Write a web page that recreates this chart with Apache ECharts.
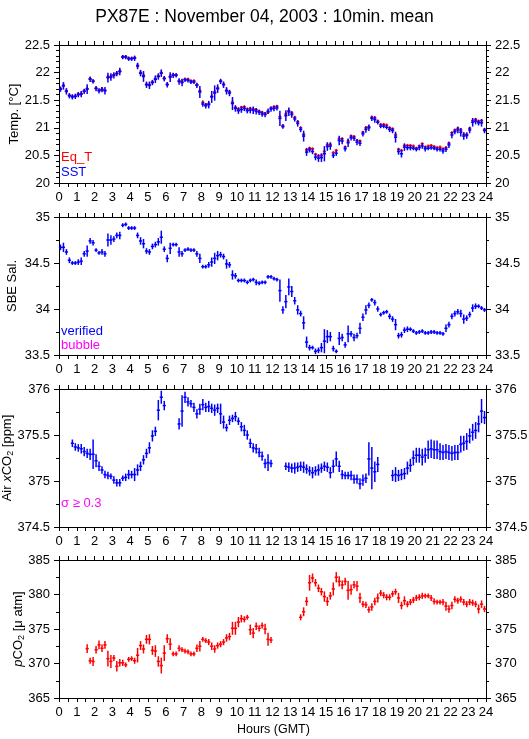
<!DOCTYPE html>
<html><head><meta charset="utf-8">
<script src="https://cdn.jsdelivr.net/npm/echarts@6/dist/echarts.min.js"></script>
<style>html,body{margin:0;padding:0;background:#fff}#c{width:529px;height:739px}</style>
</head><body><div id="c"></div>
<script>
// 10-minute mean slots: slot i is centred at (i+0.5)/6 hours
const SLOTS = 144;
const title = 'PX87E : November 04, 2003 : 10min. mean';
const xTicks = {min:0, max:24, interval:1};

const sst = [21.70,21.76,21.66,21.58,21.56,21.57,21.60,21.61,21.66,21.70,
 21.88,21.84,21.71,21.67,21.69,21.67,21.91,21.92,21.95,21.98,
 22.02,22.28,22.28,22.25,22.25,22.26,22.12,21.99,21.93,21.78,
 21.77,21.82,21.88,21.93,21.99,21.89,21.78,21.92,21.95,21.95,
 21.84,21.82,21.87,21.86,21.83,21.83,21.77,21.65,21.43,21.40,
 21.42,21.56,21.63,21.71,21.84,21.78,21.67,21.63,21.44,21.35,
 21.31,21.33,21.35,21.31,21.32,21.32,21.30,21.28,21.25,21.24,
 21.30,21.34,21.35,21.36,21.17,21.02,21.22,21.29,21.24,21.16,
 21.08,20.97,20.85,20.56,20.60,20.57,20.47,20.45,20.46,20.53,
 20.66,20.67,20.50,20.54,20.77,20.76,20.62,20.73,20.82,20.81,
 20.74,20.72,20.89,20.97,21.00,21.17,21.15,21.10,21.03,21.03,
 21.01,20.97,20.95,20.83,20.57,20.53,20.65,20.64,20.64,20.63,
 20.61,20.64,20.67,20.62,20.63,20.64,20.63,20.61,20.61,20.58,
 20.61,20.69,20.87,20.93,20.96,20.92,20.85,20.86,20.96,21.10,
 21.12,21.09,21.09,20.95];
const sstErr = [0.03,0.05,0.04,0.03,0.03,0.03,0.03,0.04,0.03,0.07,
 0.03,0.02,0.03,0.03,0.03,0.05,0.07,0.05,0.04,0.03,
 0.05,0.02,0.02,0.02,0.02,0.03,0.04,0.04,0.08,0.04,
 0.05,0.03,0.05,0.04,0.05,0.03,0.03,0.07,0.03,0.02,
 0.04,0.05,0.02,0.02,0.02,0.02,0.03,0.09,0.03,0.03,
 0.05,0.09,0.12,0.06,0.03,0.04,0.05,0.04,0.10,0.04,
 0.04,0.04,0.03,0.03,0.04,0.05,0.04,0.03,0.03,0.03,
 0.03,0.03,0.03,0.03,0.12,0.02,0.08,0.06,0.04,0.03,
 0.04,0.03,0.08,0.05,0.03,0.03,0.04,0.05,0.06,0.12,
 0.06,0.05,0.03,0.03,0.07,0.04,0.03,0.06,0.03,0.03,
 0.04,0.03,0.03,0.04,0.04,0.03,0.04,0.02,0.02,0.02,
 0.02,0.03,0.03,0.08,0.04,0.05,0.05,0.03,0.03,0.02,
 0.02,0.03,0.03,0.03,0.02,0.02,0.02,0.02,0.02,0.03,
 0.03,0.04,0.04,0.03,0.04,0.06,0.05,0.04,0.04,0.06,
 0.04,0.03,0.05,0.03];
const eqT = [21.71,21.77,21.67,21.59,21.57,21.57,21.61,21.62,21.67,21.71,
 21.89,21.85,21.72,21.68,21.70,21.68,21.92,21.93,21.96,21.99,
 22.03,22.29,22.29,22.26,22.26,22.27,22.13,22.00,21.95,21.79,
 21.78,21.83,21.89,21.94,22.00,21.90,21.79,21.93,21.96,21.96,
 21.85,21.84,21.88,21.88,21.85,21.85,21.78,21.67,21.46,21.42,
 21.44,21.57,21.65,21.72,21.85,21.79,21.68,21.65,21.46,21.37,
 21.34,21.37,21.38,21.34,21.35,21.34,21.33,21.30,21.28,21.26,
 21.28,21.36,21.38,21.39,21.20,21.04,21.25,21.31,21.27,21.19,
 21.11,21.00,20.88,20.60,20.63,20.62,20.52,20.49,20.50,20.57,
 20.69,20.70,20.55,20.59,20.80,20.80,20.65,20.76,20.85,20.84,
 20.77,20.76,20.92,21.00,21.02,21.19,21.18,21.12,21.06,21.06,
 21.05,21.00,20.98,20.87,20.61,20.59,20.68,20.68,20.68,20.67,
 20.63,20.67,20.71,20.65,20.67,20.68,20.66,20.64,20.65,20.62,
 20.64,20.72,20.91,20.96,20.99,20.96,20.88,20.88,20.99,21.13,
 21.15,21.12,21.13,20.97];
const eqTErr = [0.01,0.02,0.02,0.01,0.01,0.01,0.02,0.02,0.01,0.02,
 0.01,0.01,0.01,0.01,0.02,0.01,0.02,0.02,0.01,0.01,
 0.02,0.01,0.01,0.01,0.01,0.01,0.02,0.02,0.02,0.01,
 0.02,0.01,0.02,0.01,0.02,0.01,0.01,0.02,0.01,0.01,
 0.01,0.02,0.01,0.01,0.01,0.01,0.01,0.02,0.02,0.01,
 0.01,0.02,0.02,0.02,0.01,0.01,0.02,0.01,0.02,0.01,
 0.01,0.01,0.01,0.01,0.01,0.01,0.01,0.01,0.01,0.01,
 0.01,0.01,0.01,0.01,0.02,0.01,0.02,0.02,0.01,0.01,
 0.01,0.01,0.02,0.02,0.01,0.01,0.01,0.01,0.01,0.02,
 0.02,0.01,0.01,0.01,0.02,0.01,0.01,0.02,0.01,0.01,
 0.01,0.01,0.01,0.01,0.01,0.01,0.01,0.01,0.01,0.01,
 0.01,0.01,0.01,0.02,0.01,0.01,0.01,0.01,0.01,0.01,
 0.01,0.01,0.01,0.01,0.01,0.01,0.01,0.01,0.01,0.01,
 0.01,0.01,0.01,0.01,0.01,0.02,0.01,0.01,0.01,0.02,
 0.01,0.01,0.01,0.01];
const sal = [34.67,34.67,34.62,34.53,34.50,34.50,34.51,34.52,34.60,34.63,
 34.74,34.72,34.64,34.61,34.62,34.60,34.75,34.75,34.76,34.80,
 34.80,34.91,34.92,34.88,34.88,34.88,34.80,34.74,34.71,34.63,
 34.62,34.68,34.70,34.73,34.78,34.65,34.55,34.66,34.70,34.70,
 34.62,34.60,34.64,34.65,34.64,34.64,34.60,34.55,34.46,34.46,
 34.48,34.51,34.55,34.58,34.59,34.57,34.49,34.48,34.37,34.36,
 34.31,34.31,34.31,34.29,34.31,34.32,34.29,34.28,34.29,34.29,
 34.35,34.35,34.33,34.32,34.20,33.99,34.08,34.24,34.19,34.09,
 33.99,33.95,33.85,33.64,33.58,33.58,33.54,33.55,33.58,33.65,
 33.70,33.70,33.57,33.54,33.68,33.69,33.61,33.73,33.73,33.69,
 33.71,33.79,33.91,33.99,34.04,34.10,34.07,34.00,33.94,33.96,
 33.97,33.92,33.89,33.83,33.71,33.72,33.77,33.78,33.78,33.76,
 33.74,33.75,33.76,33.74,33.74,33.75,33.75,33.74,33.74,33.73,
 33.79,33.83,33.92,33.95,33.97,33.95,33.89,33.90,33.94,34.01,
 34.03,34.03,34.01,33.99];
const salErr = [0.02,0.04,0.02,0.02,0.01,0.01,0.02,0.03,0.02,0.05,
 0.02,0.02,0.01,0.01,0.02,0.02,0.06,0.04,0.02,0.02,
 0.03,0.01,0.01,0.01,0.01,0.01,0.02,0.03,0.04,0.02,
 0.02,0.02,0.02,0.03,0.06,0.02,0.03,0.05,0.01,0.01,
 0.04,0.02,0.01,0.01,0.01,0.01,0.02,0.04,0.01,0.01,
 0.02,0.04,0.05,0.04,0.02,0.02,0.04,0.02,0.04,0.02,
 0.01,0.01,0.01,0.01,0.01,0.01,0.02,0.01,0.01,0.01,
 0.01,0.01,0.01,0.01,0.11,0.03,0.06,0.08,0.05,0.03,
 0.04,0.02,0.06,0.05,0.02,0.01,0.02,0.02,0.04,0.12,
 0.06,0.04,0.02,0.01,0.06,0.03,0.02,0.08,0.02,0.03,
 0.02,0.05,0.03,0.04,0.02,0.01,0.02,0.02,0.01,0.01,
 0.01,0.02,0.02,0.05,0.02,0.02,0.02,0.02,0.01,0.01,
 0.01,0.01,0.01,0.01,0.01,0.01,0.01,0.01,0.01,0.01,
 0.03,0.02,0.02,0.02,0.02,0.03,0.04,0.02,0.02,0.03,
 0.02,0.01,0.01,0.01];
const airCO2 = [null,null,null,null,375.41,375.37,375.36,375.35,375.32,375.30,
 375.29,375.29,375.22,375.16,375.12,375.07,375.06,375.05,375.01,374.98,
 374.98,375.03,375.04,375.07,375.07,375.07,375.12,375.16,375.23,375.30,
 375.36,375.49,375.54,375.77,375.91,375.82,null,null,null,null,
 375.62,375.76,375.91,375.86,375.84,375.80,375.73,375.78,375.83,375.80,
 375.81,375.79,375.77,375.79,375.73,375.64,375.58,375.66,375.68,375.70,
 375.65,375.59,375.55,375.50,375.41,375.36,375.35,375.31,375.27,375.19,
 375.20,375.19,null,null,null,null,375.16,375.15,375.14,375.14,
 375.15,375.16,375.15,375.13,375.11,375.09,375.11,375.12,375.14,375.16,
 375.15,375.09,375.16,375.24,375.16,375.07,375.06,375.06,375.06,375.02,
 375.02,374.97,375.01,375.03,375.24,375.14,375.10,375.18,null,null,
 null,null,375.06,375.07,375.06,375.07,375.08,375.14,375.17,375.25,
 375.28,375.28,375.26,375.28,375.34,375.35,375.34,375.34,375.32,375.31,
 375.32,375.31,375.30,375.31,375.31,375.40,375.41,375.43,375.49,375.53,
 375.55,375.62,375.76,375.69];
const airErr = [0,0,0,0,0.03,0.03,0.03,0.04,0.04,0.04,
 0.05,0.15,0.06,0.04,0.03,0.03,0.03,0.02,0.03,0.03,
 0.03,0.02,0.03,0.04,0.03,0.06,0.05,0.04,0.04,0.04,
 0.05,0.05,0.04,0.10,0.06,0.04,0,0,0,0,
 0.05,0.16,0.05,0.04,0.03,0.04,0.04,0.05,0.05,0.04,
 0.05,0.04,0.05,0.04,0.10,0.06,0.03,0.04,0.03,0.04,
 0.03,0.04,0.05,0.04,0.04,0.04,0.04,0.04,0.04,0.04,
 0.08,0.03,0,0,0,0,0.03,0.04,0.04,0.05,
 0.04,0.04,0.05,0.04,0.04,0.05,0.04,0.05,0.04,0.04,
 0.04,0.05,0.06,0.07,0.05,0.04,0.03,0.03,0.04,0.04,
 0.04,0.05,0.05,0.04,0.17,0.22,0.10,0.07,0,0,
 0,0,0.05,0.07,0.05,0.05,0.05,0.06,0.06,0.07,
 0.07,0.07,0.08,0.07,0.09,0.09,0.09,0.09,0.08,0.07,
 0.07,0.07,0.07,0.07,0.07,0.08,0.07,0.08,0.07,0.08,
 0.08,0.08,0.12,0.06];
const pCO2 = [null,null,null,null,null,null,null,null,null,372.15,
 370.4,370.3,372.0,372.7,372.2,372.7,370.7,370.3,370.8,369.6,
 370.1,370.1,369.8,370.6,370.7,370.4,371.2,372.6,372.1,373.5,
 373.5,371.9,371.8,370.3,369.7,371.5,373.6,372.8,371.4,371.4,
 372.2,372.0,371.8,371.7,371.4,371.4,372.2,372.5,373.5,373.3,
 373.1,372.5,372.1,372.6,372.8,373.1,373.7,373.9,375.1,375.1,
 376.0,376.5,376.4,376.7,374.9,374.4,375.4,375.1,375.5,375.0,
 373.5,373.4,null,null,null,null,null,null,null,null,
 null,376.7,377.5,379.0,381.7,382.4,381.7,380.9,380.4,379.7,
 379.0,379.8,380.8,382.5,381.9,381.4,381.9,380.6,380.7,381.4,
 381.2,379.5,378.6,378.5,377.8,378.2,379.0,379.5,380.2,379.9,
 379.6,379.6,380.1,380.4,379.5,378.4,379.1,378.6,378.9,379.2,
 379.5,379.6,379.8,379.8,379.8,379.5,379.0,378.9,378.9,378.9,
 378.3,377.9,378.4,379.3,379.1,379.3,378.9,378.6,378.9,378.8,
 378.6,377.9,378.6,377.9];
const pCO2Err = [0,0,0,0,0,0,0,0,0,0.5,
 0.3,0.5,0.4,0.5,0.4,0.4,1.0,0.8,0.3,0.6,
 0.4,0.3,0.2,0.2,0.2,0.3,0.9,0.5,0.5,0.5,
 0.6,0.5,0.7,0.6,1.0,1.0,0.5,0.7,0.2,0.2,
 0.3,0.2,0.2,0.2,0.2,0.2,0.4,0.6,0.2,0.2,
 0.3,0.4,0.4,0.3,0.3,0.3,0.4,0.4,0.8,0.8,
 0.6,0.4,0.3,0.2,0.6,0.6,0.4,0.3,0.3,0.6,
 0.8,0.3,0,0,0,0,0,0,0,0,
 0,0.3,0.5,0.5,1.0,0.5,0.4,0.4,0.4,0.6,
 0.5,0.4,0.8,0.6,0.6,0.5,0.4,1.2,0.6,0.4,
 0.6,0.6,0.3,0.3,0.3,0.4,0.4,0.5,0.3,0.3,
 0.3,0.3,0.3,0.3,0.6,0.4,0.5,0.3,0.3,0.3,
 0.3,0.3,0.3,0.2,0.2,0.3,0.3,0.2,0.2,0.3,
 0.5,0.4,0.4,0.3,0.3,0.3,0.3,0.3,0.3,0.3,
 0.3,0.5,0.4,0.3];

const FONT = '"Liberation Sans", Arial, Helvetica, sans-serif';
const HALF = 0.09; // half width of the 10-min bar in hours

function build(vals, errs) {
  const out = [];
  for (let i = 0; i < SLOTS; i++) {
    if (vals[i] === null || vals[i] === undefined) continue;
    out.push([(i + 0.5) / 6, vals[i], errs[i]]);
  }
  return out;
}

function crossSeries(name, data, color, gi) {
  return {
    type: 'custom', name, xAxisIndex: gi * 2, yAxisIndex: gi * 2, data,
    renderItem: function (params, api) {
      const t = api.value(0), v = api.value(1), e = api.value(2);
      const a = api.coord([t - HALF, v]), b = api.coord([t + HALF, v]);
      const c = api.coord([t, v - e]), d = api.coord([t, v + e]);
      return { type: 'group', children: [
        { type: 'line', shape: { x1: a[0], y1: a[1], x2: b[0], y2: b[1] }, style: { stroke: color, lineWidth: 1.5 } },
        { type: 'line', shape: { x1: c[0], y1: c[1] + 1, x2: d[0], y2: d[1] - 1 }, style: { stroke: color, lineWidth: 1.5 } }
      ]};
    }
  };
}

const panels = [
  { top: 45, min: 20, max: 22.5, interval: 0.5, minor: 5, name: 'Temp. [°C]', gap: 38 },
  { top: 217, min: 33.5, max: 35, interval: 0.5, minor: 2, name: 'SBE Sal.', gap: 40 },
  { top: 389, min: 374.5, max: 376, interval: 0.5, minor: 2, name: 'Air {i|x}CO{s|2} [ppm]', gap: 44 },
  { top: 560, min: 365, max: 385, interval: 5, minor: 2, name: '{i|p}CO{s|2} [μ atm]', gap: 33 }
];

const black = { color: '#000', width: 1 };
const grid = [], xAxis = [], yAxis = [];
panels.forEach((p, gi) => {
  grid.push({ left: 59, right: 43, top: p.top, height: 138, containLabel: false, outerBoundsMode: 'none' });
  const xb = { type: 'value', gridIndex: gi, min: xTicks.min, max: xTicks.max, interval: xTicks.interval,
    axisLine: { onZero: false, lineStyle: black },
    axisTick: { length: 4, lineStyle: black },
    minorTick: { show: true, splitNumber: 2, length: 4, lineStyle: black },
    splitLine: { show: false }, minorSplitLine: { show: false },
    axisLabel: { color: '#000', fontSize: 13, fontFamily: FONT, margin: 8 } };
  xAxis.push(Object.assign({}, xb, { position: 'bottom' }));
  xAxis.push(Object.assign({}, xb, { position: 'top', axisLabel: { show: false } }));
  const yb = { type: 'value', gridIndex: gi, min: p.min, max: p.max, interval: p.interval,
    axisLine: { onZero: false, lineStyle: black },
    axisTick: { length: 5, lineStyle: black },
    minorTick: { show: true, splitNumber: p.minor, length: 3, lineStyle: black },
    splitLine: { show: false }, minorSplitLine: { show: false },
    axisLabel: { color: '#000', fontSize: 13, fontFamily: FONT, margin: 9 } };
  yAxis.push(Object.assign({}, yb, { position: 'left', name: p.name, nameLocation: 'middle', nameGap: p.gap,
    nameRotate: 90, nameMoveOverlap: false,
    nameTextStyle: { color: '#000', fontSize: 13, fontFamily: FONT,
      rich: { s: { fontSize: 9, verticalAlign: 'bottom', padding: [6, 0, 0, 0], fontFamily: FONT, color: '#000' },
              i: { fontStyle: 'italic', fontSize: 13, fontFamily: FONT, color: '#000' } } } }));
  yAxis.push(Object.assign({}, yb, { position: 'right' }));
});

const series = [
  crossSeries('Eq_T', build(eqT, eqTErr), '#ff0000', 0),
  crossSeries('SST', build(sst, sstErr), '#0000ff', 0),
  crossSeries('verified', build(sal, salErr), '#0000ff', 1),
  crossSeries('Air xCO2', build(airCO2, airErr), '#0000ff', 2),
  crossSeries('pCO2', build(pCO2, pCO2Err), '#ff0000', 3)
];

const txt = (x, y, text, fill, size) => ({ type: 'text', left: x, top: y, z: 100,
  style: { text, fill, font: (size || 13) + 'px ' + FONT } });

const option = {
  backgroundColor: '#fff',
  animation: false,
  title: { text: title, left: 'center', top: 3,
    textStyle: { color: '#000', fontSize: 17.5, fontWeight: 'normal', fontFamily: FONT } },
  grid, xAxis, yAxis, series,
  graphic: [
    txt(61, 151, 'Eq_T', '#ff0000'),
    txt(61, 166, 'SST', '#0000ff'),
    txt(61, 325, 'verified', '#0000ff'),
    txt(61, 339, 'bubble', '#ff00ff'),
    txt(61, 497, 'σ ≥ 0.3', '#ff00ff'),
    txt(237, 723, 'Hours (GMT)', '#000', 12.5)
  ]
};

const chart = echarts.init(document.getElementById('c'), null, { renderer: 'canvas' });
chart.setOption(option);
</script>
</body></html>
